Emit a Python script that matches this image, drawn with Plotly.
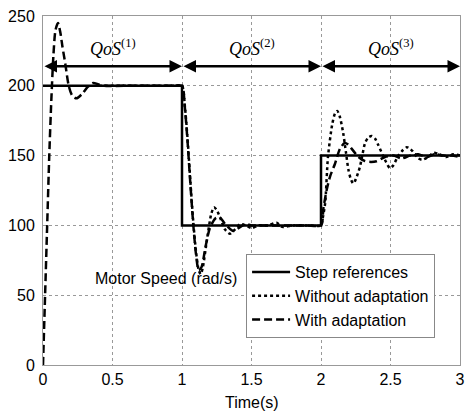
import plotly.graph_objects as go

# Step references
t_step = [0, 1, 1, 2, 2, 3]
y_step = [200, 200, 100, 100, 150, 150]

# Without adaptation (dotted)
t_wo = [0.4, 0.6, 0.8, 0.95, 1.0, 1.02, 1.04, 1.06, 1.08, 1.10, 1.12, 1.135, 1.15, 1.18, 1.21, 1.23,
        1.25, 1.28, 1.31, 1.345, 1.38, 1.42, 1.46, 1.50, 1.55, 1.62, 1.68, 1.72, 1.8, 1.9, 2.0,
        2.01, 2.03, 2.05, 2.08, 2.10, 2.117, 2.135, 2.16, 2.18, 2.197, 2.215, 2.232, 2.25, 2.28,
        2.317, 2.34, 2.365, 2.39, 2.41, 2.46, 2.496, 2.52, 2.556, 2.59, 2.617, 2.64, 2.66, 2.70,
        2.73, 2.77, 2.81, 2.85, 2.90, 2.95, 3.0]
y_wo = [200, 200, 200, 200, 200, 186, 162, 132, 104, 82, 68, 65, 70, 90, 108, 113,
        111, 104, 97, 94, 97, 101, 100, 98, 100, 100, 102, 99, 100, 100, 100,
        104, 116, 149, 172, 180, 182, 178, 166, 152, 140, 133, 130, 133, 142,
        159, 163, 164, 162, 158, 147, 141, 143, 150, 154, 156, 155, 153, 148,
        147, 149, 152, 151, 149, 151, 150]

# With adaptation (dashed)
t_w = [0, 0.015, 0.03, 0.045, 0.06, 0.075, 0.09, 0.108, 0.125, 0.14, 0.16, 0.185, 0.21, 0.24,
       0.28, 0.32, 0.36, 0.40, 0.44, 0.6, 0.8, 0.95, 1.0, 1.02, 1.04, 1.06, 1.08, 1.10, 1.12,
       1.14, 1.17, 1.20, 1.24, 1.27, 1.31, 1.37, 1.42, 1.46, 1.5, 1.6, 1.7, 1.8, 1.9, 2.0,
       2.017, 2.04, 2.065, 2.10, 2.137, 2.17, 2.195, 2.22, 2.27, 2.317, 2.36, 2.40, 2.46,
       2.52, 2.58, 2.64, 2.70, 2.76, 2.82, 2.88, 2.94, 3.0]
y_w = [0, 50, 100, 150, 190, 222, 240, 245, 238, 228, 216, 200, 193, 191,
       194, 199, 202, 201, 200, 200, 200, 200, 200, 185, 160, 130, 102, 80, 68,
       70, 85, 98, 105, 106, 101, 96, 99, 101, 100, 100, 100, 100, 100, 100,
       112, 125, 135, 144, 155, 159, 158, 155, 149, 146, 145.5, 146, 149,
       150, 148, 150, 151, 149, 151, 150, 150, 149]

qos_labels = ["<i>QoS</i><sup>(1)</sup>", "<i>QoS</i><sup>(2)</sup>", "<i>QoS</i><sup>(3)</sup>"]
qos_starts = [0, 1, 2]
qos_ends = [1, 2, 3]
qos_centers = [0.5, 1.5, 2.5]
arrow_y = 214
label_y = 227.5

x_ticks = [0, 0.5, 1, 1.5, 2, 2.5, 3]
x_ticktext = ["0", "0.5", "1", "1.5", "2", "2.5", "3"]
y_ticks = [0, 50, 100, 150, 200, 250]

FONT = "Liberation Sans, Arial, sans-serif"

fig = go.Figure()
fig.add_trace(go.Scatter(x=t_step, y=y_step, mode="lines", name="Step references",
                         line=dict(color="black", width=2.5)))
fig.add_trace(go.Scatter(x=t_wo, y=y_wo, mode="lines", name="Without adaptation",
                         line=dict(color="black", width=2.5, dash="3px,3px", shape="spline", smoothing=0.7)))
fig.add_trace(go.Scatter(x=t_w, y=y_w, mode="lines", name="With adaptation",
                         line=dict(color="black", width=2.5, dash="8px,4px", shape="spline", smoothing=0.7)))

annotations = []
for s, e, c, lab in zip(qos_starts, qos_ends, qos_centers, qos_labels):
    annotations.append(dict(x=e, y=arrow_y, ax=s, ay=arrow_y, xref="x", yref="y", axref="x", ayref="y",
                            text="", showarrow=True, arrowhead=2, arrowside="end+start", arrowsize=1,
                            arrowwidth=2.5, arrowcolor="black", standoff=0, startstandoff=0))
    annotations.append(dict(x=c, y=label_y, xref="x", yref="y", text=lab, showarrow=False,
                            font=dict(family="Liberation Serif, Times New Roman, serif", size=18, color="black")))

annotations.append(dict(x=0.888, y=62, xref="x", yref="y", text="Motor Speed (rad/s)", showarrow=False,
                        font=dict(family=FONT, size=16, color="black")))
annotations.append(dict(x=0.5, y=0, xref="paper", yref="paper", yanchor="top", yshift=-27,
                        text="Time(s)", showarrow=False, font=dict(family=FONT, size=16, color="black")))

fig.update_layout(
    width=465, height=412,
    margin=dict(l=43, r=5, t=16, b=47, autoexpand=False),
    paper_bgcolor="white", plot_bgcolor="white",
    font=dict(family=FONT, size=16, color="black"),
    showlegend=True,
    legend=dict(x=0.487, y=0.318, xanchor="left", yanchor="top", bgcolor="white",
                bordercolor="#888", borderwidth=1, font=dict(family=FONT, size=16, color="black"),
                tracegroupgap=0, itemwidth=38),
    annotations=annotations,
)
fig.update_xaxes(range=[0, 3], tickvals=x_ticks, ticktext=x_ticktext, showgrid=True, gridcolor="#999",
                 griddash="dot", gridwidth=1, zeroline=False, showline=True, linecolor="#999",
                 linewidth=1, mirror=True, ticks="", tickfont=dict(size=16), automargin=False)
fig.update_yaxes(range=[0, 250], tickvals=y_ticks, showgrid=True, gridcolor="#999", griddash="dot",
                 gridwidth=1, zeroline=False, showline=True, linecolor="#999", linewidth=1, mirror=True,
                 ticks="", tickfont=dict(size=16), ticklabelstandoff=4, automargin=False)

fig.write_html("out.html", config={"displayModeBar": False},
               post_script="document.body.style.margin='0';")
